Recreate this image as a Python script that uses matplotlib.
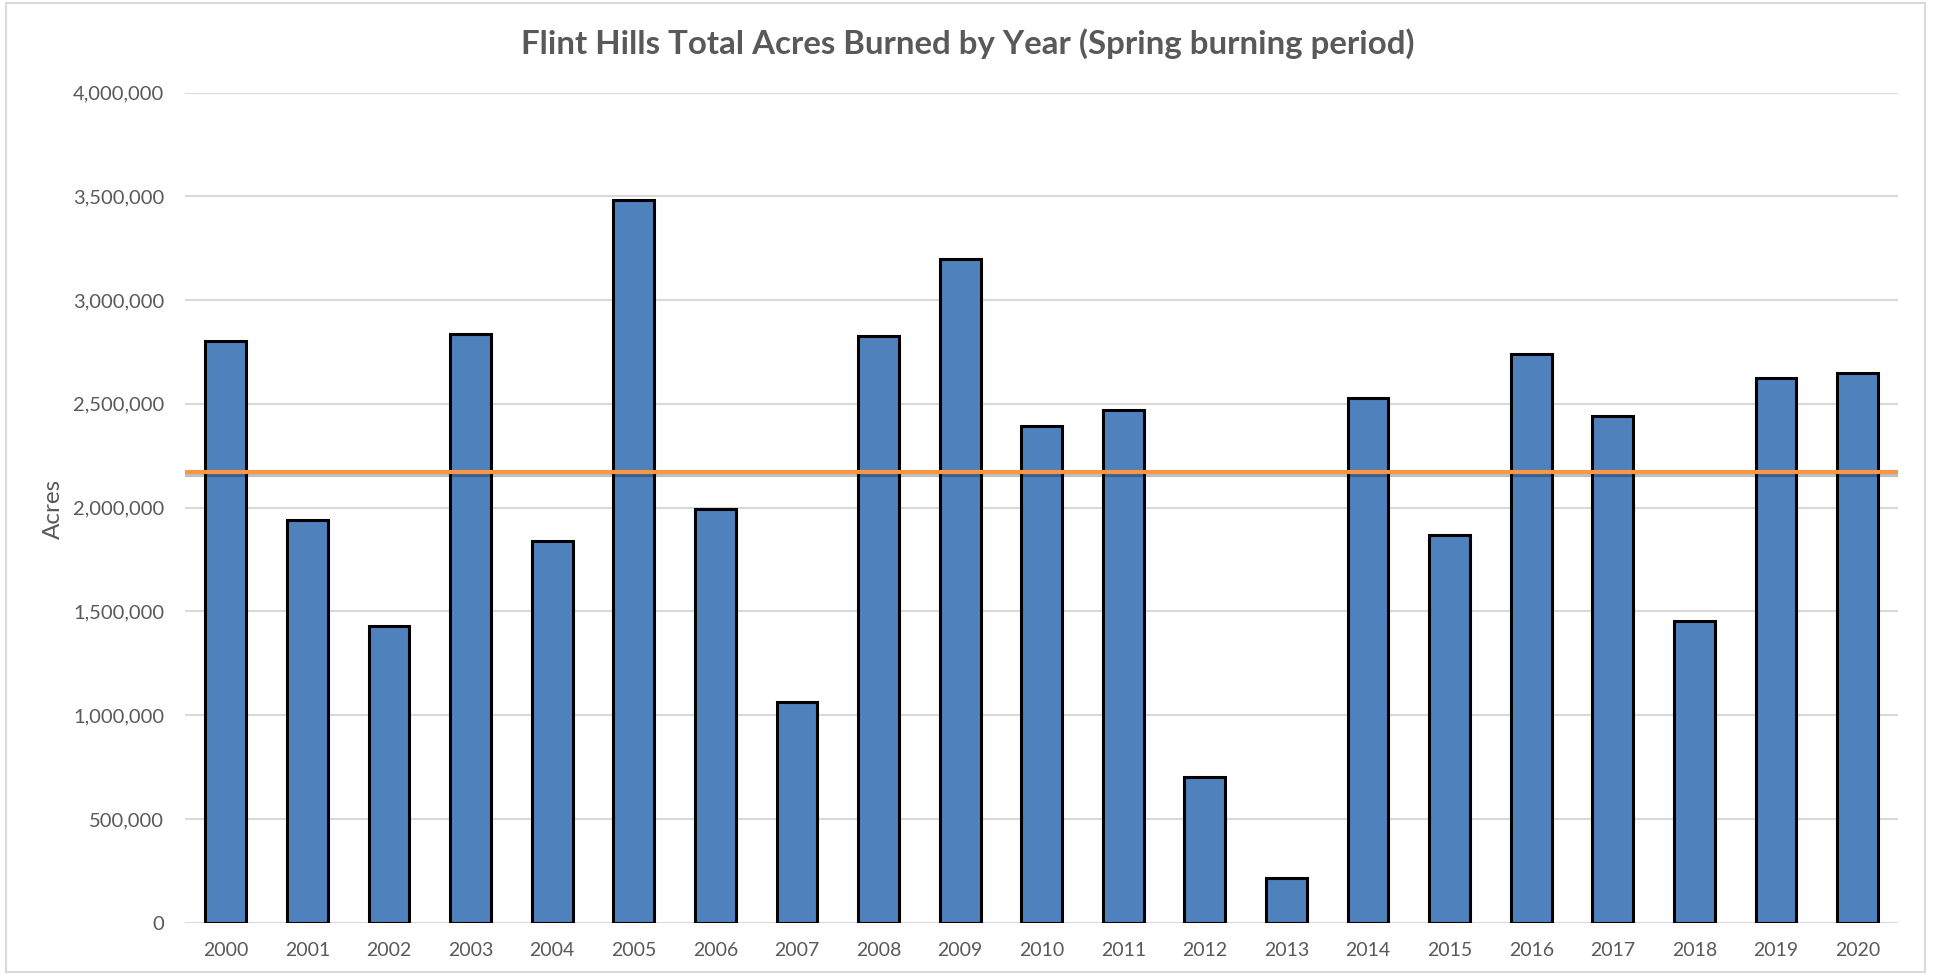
"""Flint Hills total acres burned by year (spring burning period), Excel-style bar chart."""

import matplotlib
matplotlib.use("Agg")
import matplotlib.pyplot as plt
import matplotlib.patheffects as pe
from matplotlib.patches import Rectangle
from matplotlib.ticker import FuncFormatter

years = [str(y) for y in range(2000, 2021)]
acres = [2805000, 1940000, 1430000, 2838000, 1838000, 3482000, 1993000,
         1065000, 2826000, 3196000, 2392000, 2470000, 703000, 215000,
         2530000, 1868000, 2738000, 2440000, 1452000, 2626000, 2648000]
average_acres = 2172000

TITLE = "Flint Hills Total Acres Burned by Year (Spring burning period)"
TEXT_GREY = "#595959"
GRID_GREY = "#d9d9d9"
BAR_BLUE = "#4f81bd"
AVG_ORANGE = "#f79646"

plt.rcParams["font.family"] = ["Lato", "DejaVu Sans"]

fig = plt.figure(figsize=(19.35, 9.74), dpi=100)
fig.patch.set_facecolor("white")

# outer chart border, like an Excel chart area
fig.patches.append(Rectangle((6 / 1935, 2 / 974), 1919 / 1935, 969 / 974,
                             transform=fig.transFigure, fill=False,
                             edgecolor=GRID_GREY, linewidth=1.5))

ax = fig.add_axes([0.0956, 0.0527, 0.8855, 0.8523])

x = range(len(years))
ax.bar(x, acres, width=0.5, color=BAR_BLUE, edgecolor="black",
       linewidth=2.2, zorder=3)
ax.axhline(average_acres, color=AVG_ORANGE, linewidth=3.0, zorder=4,
           path_effects=[pe.SimpleLineShadow(offset=(0, -2), alpha=0.25,
                                             shadow_color="black"),
                         pe.Normal()])

ax.set_xlim(-0.5, len(years) - 0.5)
ax.set_ylim(0, 4000000)
ax.set_yticks(range(0, 4000001, 500000))
ax.yaxis.set_major_formatter(FuncFormatter(lambda v, _: f"{int(v):,}"))
ax.set_xticks(list(x))
ax.set_xticklabels(years)

ax.grid(axis="y", color=GRID_GREY, linewidth=1.5, zorder=0)
ax.set_axisbelow(True)
for side in ("top", "right", "left", "bottom"):
    ax.spines[side].set_visible(False)
ax.tick_params(axis="both", length=0, colors=TEXT_GREY)
ax.tick_params(axis="x", pad=14, labelsize=14)
ax.tick_params(axis="y", pad=15, labelsize=14.5)

fig.text(53.5 / 1935, 1 - 509 / 974, "Acres", rotation=90, ha="center",
         va="center", fontsize=17.5, color=TEXT_GREY)

fig.text(0.5, 1 - 44 / 974, TITLE, ha="center", va="center", fontsize=23.8,
         fontweight="bold", color=TEXT_GREY)

fig.savefig("out.png", dpi=100, facecolor="white")
